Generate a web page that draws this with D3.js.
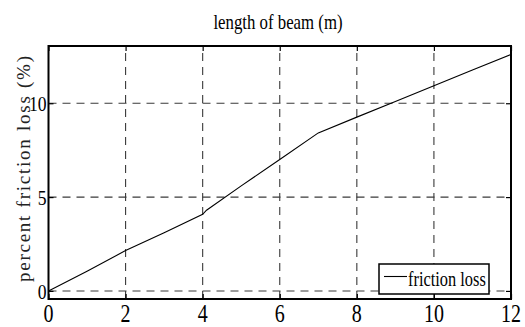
<!DOCTYPE html>
<html>
<head>
<meta charset="utf-8">
<script src="https://cdn.jsdelivr.net/npm/d3@7"></script>
<style>
  html, body { margin: 0; padding: 0; background: #fff; }
  svg { display: block; }
</style>
</head>
<body>
<svg id="chart" width="525" height="327"></svg>
<script>
// Beam length (m) and the friction loss (%) measured along it
const beamLength = [0, 1, 2, 3, 4, 4.1, 5, 6, 7, 8, 9, 10, 11, 12];
const frictionLoss = [0, 1.05, 2.15, 3.1, 4.08, 4.3, 5.6, 7.0, 8.42, 9.26, 10.09, 10.93, 11.77, 12.6];
const xTicks = [0, 2, 4, 6, 8, 10, 12];
const yTicks = [0, 5, 10];
const seriesName = "friction loss";
const titleText = "length of beam (m)";
const yLabelText = "percent friction loss (%)";

const svg = d3.select("#chart");
const plot = { left: 48.5, right: 511, top: 46, bottom: 299 };

const x = d3.scaleLinear().domain([0, 12]).range([plot.left, plot.right]);
const y = d3.scaleLinear().domain([-0.43, 13.05]).range([plot.bottom, plot.top]);

const SERIF = "Liberation Serif";
const NARROW = 0.8; // horizontal squeeze applied to the serif labels

// Place a text at (px, py) with its glyphs narrowed horizontally
const narrowAt = (px, py, k = NARROW) => `translate(${px},${py}) scale(${k},1)`;

// Dashed grid
const grid = svg.append("g").attr("stroke", "#3a3a3a").attr("stroke-width", 1.1)
  .attr("stroke-dasharray", "8,6").attr("fill", "none");
xTicks.slice(1, -1).forEach(t => {
  grid.append("line").attr("x1", x(t)).attr("x2", x(t)).attr("y1", plot.bottom).attr("y2", plot.top);
});
yTicks.forEach(t => {
  grid.append("line").attr("x1", plot.left).attr("x2", plot.right).attr("y1", y(t)).attr("y2", y(t));
});

// Inward ticks on all four sides, using d3 axes
const tickLen = 5;
svg.append("g").attr("transform", `translate(0,${plot.bottom})`)
  .call(d3.axisTop(x).tickValues(xTicks).tickSize(tickLen).tickFormat(""))
  .call(g => g.select(".domain").remove());
svg.append("g").attr("transform", `translate(0,${plot.top})`)
  .call(d3.axisBottom(x).tickValues(xTicks).tickSize(tickLen).tickFormat(""))
  .call(g => g.select(".domain").remove());
svg.append("g").attr("transform", `translate(${plot.left},0)`)
  .call(d3.axisRight(y).tickValues(yTicks).tickSize(tickLen).tickFormat(""))
  .call(g => g.select(".domain").remove());
svg.append("g").attr("transform", `translate(${plot.right},0)`)
  .call(d3.axisLeft(y).tickValues(yTicks).tickSize(tickLen).tickFormat(""))
  .call(g => g.select(".domain").remove());
svg.selectAll(".tick line").attr("stroke", "#000").attr("stroke-width", 1.2);

// Data line
const line = d3.line().x((d, i) => x(beamLength[i])).y(d => y(d));
svg.append("path").datum(frictionLoss)
  .attr("d", line).attr("fill", "none").attr("stroke", "#000").attr("stroke-width", 1.1);

// Frame
svg.append("rect")
  .attr("x", plot.left).attr("y", plot.top)
  .attr("width", plot.right - plot.left).attr("height", plot.bottom - plot.top)
  .attr("fill", "none").attr("stroke", "#000").attr("stroke-width", 2);

// X tick labels
svg.append("g").selectAll("text").data(xTicks).join("text")
  .attr("font-family", SERIF).attr("font-size", 25)
  .attr("transform", d => narrowAt(x(d), 322))
  .attr("text-anchor", "middle")
  .text(d => d);

// Y tick labels
svg.append("g").selectAll("text").data(yTicks).join("text")
  .attr("font-family", SERIF).attr("font-size", 22)
  .attr("transform", d => narrowAt(plot.left - 2, y(d) + 8))
  .attr("text-anchor", "end")
  .text(d => d);

// Title
svg.append("text")
  .attr("font-family", SERIF).attr("font-size", 21)
  .attr("transform", narrowAt(278, 29))
  .attr("text-anchor", "middle")
  .text(titleText);

// Y axis label, set with wide letter spacing
svg.append("text")
  .attr("font-family", SERIF).attr("font-size", 19)
  .attr("fill", "#222")
  .attr("transform", "translate(29.5,169) rotate(-90)")
  .attr("text-anchor", "middle")
  .attr("textLength", 226).attr("lengthAdjust", "spacing")
  .text(yLabelText);

// Legend
const legend = svg.append("g");
legend.append("rect")
  .attr("x", 379).attr("y", 264).attr("width", 110).attr("height", 30)
  .attr("fill", "#fff").attr("stroke", "#000").attr("stroke-width", 1.5);
legend.append("line")
  .attr("x1", 384).attr("x2", 407).attr("y1", 276.5).attr("y2", 276.5)
  .attr("stroke", "#000").attr("stroke-width", 1.1);
legend.append("text")
  .attr("font-family", SERIF).attr("font-size", 21)
  .attr("transform", narrowAt(408, 286, 0.78))
  .text(seriesName);
</script>
</body>
</html>
